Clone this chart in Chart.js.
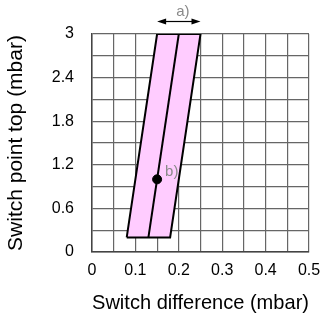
<!DOCTYPE html>
<html>
<head>
<meta charset="utf-8">
<script src="https://cdn.jsdelivr.net/npm/chart.js@4/dist/chart.umd.min.js"></script>
<style>
html,body{margin:0;padding:0;background:#fff;}
#wrap{width:321px;height:321px;position:relative;}
</style>
</head>
<body>
<div id="wrap"><canvas id="c" width="321" height="321"></canvas></div>
<script>
// Data
const xTickLabels = ['0', '0.1', '0.2', '0.3', '0.4', '0.5'];
const yTickLabels = ['0', '0.6', '1.2', '1.8', '2.4', '3'];
// Switching band (parallelogram) outline: switch difference (x) vs switch point top (y)
const bandX = [0.08, 0.15, 0.25, 0.18, 0.08];
const bandY = [0.2, 3.0, 3.0, 0.2, 0.2];
// Centre line of band
const centreX = [0.13, 0.20];
const centreY = [0.2, 3.0];
// Marked point b)
const pointX = [0.15];
const pointY = [1.0];
const pointLabel = 'b)';
// Tolerance arrow a) spans top edge of band
const arrowX = [0.15, 0.25];
const arrowLabel = 'a)';

const toXY = (xs, ys) => xs.map((x, i) => ({x: x, y: ys[i]}));
const FONT = '"Liberation Sans", Arial, sans-serif';

const annot = {
  id: 'annot',
  afterDatasetsDraw(chart) {
    const ctx = chart.ctx;
    const xs = chart.scales.x, ys = chart.scales.y;
    ctx.save();
    ctx.fillStyle = '#8a8a8a';
    ctx.font = '15px ' + FONT;
    ctx.textAlign = 'left';
    ctx.textBaseline = 'middle';
    ctx.fillText(pointLabel, xs.getPixelForValue(pointX[0]) + 8, ys.getPixelForValue(pointY[0]) - 7.5);
    const x1 = xs.getPixelForValue(arrowX[0]);
    const x2 = xs.getPixelForValue(arrowX[1]);
    const ay = ys.getPixelForValue(3) - 12.5;
    ctx.strokeStyle = '#000';
    ctx.fillStyle = '#000';
    ctx.lineWidth = 1.2;
    ctx.beginPath();
    ctx.moveTo(x1 + 6, ay);
    ctx.lineTo(x2 - 6, ay);
    ctx.stroke();
    ctx.beginPath();
    ctx.moveTo(x1, ay); ctx.lineTo(x1 + 9, ay - 3); ctx.lineTo(x1 + 9, ay + 3); ctx.closePath(); ctx.fill();
    ctx.beginPath();
    ctx.moveTo(x2, ay); ctx.lineTo(x2 - 9, ay - 3); ctx.lineTo(x2 - 9, ay + 3); ctx.closePath(); ctx.fill();
    ctx.fillStyle = '#8a8a8a';
    ctx.textAlign = 'center';
    ctx.fillText(arrowLabel, (x1 + x2) / 2 + 4, ay - 9.5);
    ctx.restore();
  }
};

new Chart(document.getElementById('c'), {
  type: 'scatter',
  data: {
    datasets: [
      {
        data: toXY(bandX, bandY),
        showLine: true,
        fill: 'shape',
        backgroundColor: '#ffccff',
        borderColor: '#000',
        borderWidth: 2,
        pointRadius: 0,
        tension: 0,
        order: 3
      },
      {
        data: toXY(centreX, centreY),
        showLine: true,
        fill: false,
        borderColor: '#000',
        borderWidth: 2,
        pointRadius: 0,
        order: 2
      },
      {
        data: toXY(pointX, pointY),
        showLine: false,
        backgroundColor: '#000',
        borderColor: '#000',
        pointRadius: 4.5,
        order: 1
      }
    ]
  },
  options: {
    responsive: false,
    animation: false,
    devicePixelRatio: 1,
    layout: {padding: {left: 0, top: 34, right: 12, bottom: 0}},
    plugins: {legend: {display: false}, tooltip: {enabled: false}},
    scales: {
      x: {
        type: 'linear', min: 0, max: 0.5,
        afterFit(s) { s.height = 69; s.paddingLeft = 0; s.paddingRight = 0; },
        border: {display: true, color: '#444', width: 1.5},
        grid: {color: '#666', lineWidth: 1.2, drawTicks: false},
        ticks: {
          stepSize: 0.05, autoSkip: false, maxRotation: 0, padding: 9,
          color: '#000', font: {family: FONT, size: 16},
          callback: (v, i) => (i % 2 === 0 ? xTickLabels[i / 2] : '')
        },
        title: {
          display: true, text: 'Switch difference (mbar)', color: '#000',
          font: {family: FONT, size: 21},
          padding: {top: 0, bottom: 5}
        }
      },
      y: {
        type: 'linear', min: 0, max: 3,
        afterFit(s) { s.width = 92; s.paddingTop = 0; s.paddingBottom = 0; },
        border: {display: true, color: '#444', width: 1.5},
        grid: {color: '#666', lineWidth: 1.2, drawTicks: false},
        ticks: {
          stepSize: 0.3, autoSkip: false, padding: 18,
          color: '#000', font: {family: FONT, size: 16},
          callback: (v, i) => (i % 2 === 0 ? yTickLabels[i / 2] : '')
        },
        title: {
          display: true, text: 'Switch point top (mbar)', color: '#000',
          font: {family: FONT, size: 21},
          padding: {top: 4, bottom: 0}
        }
      }
    }
  },
  plugins: [annot]
});
</script>
</body>
</html>
